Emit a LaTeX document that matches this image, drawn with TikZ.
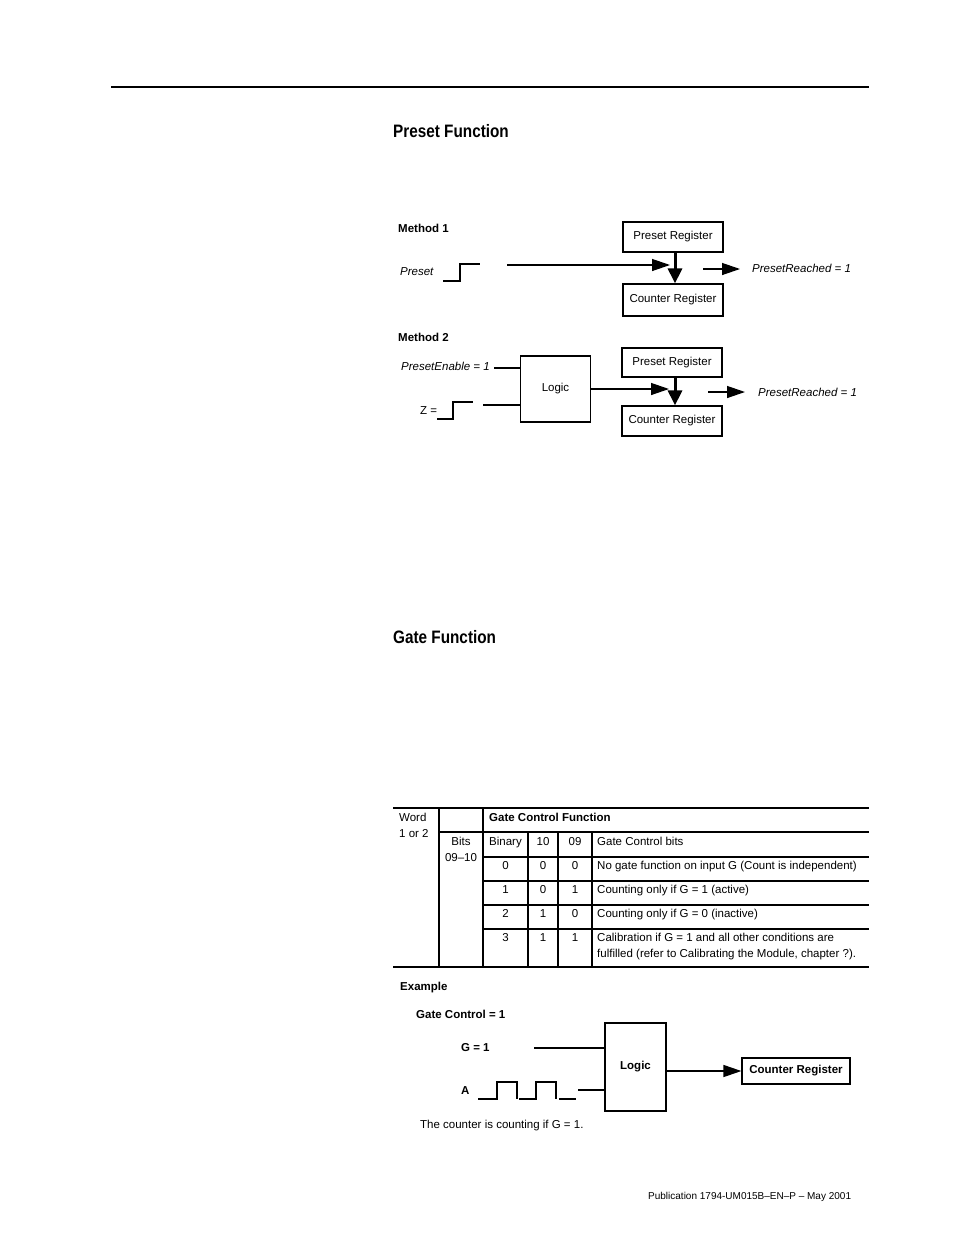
\documentclass[tikz,border=0pt]{standalone}
\usepackage{fontspec}
\setmainfont{Liberation Sans}
\newfontfamily\headfont{Liberation Sans}[FakeStretch=0.85]
\usetikzlibrary{arrows.meta}
\newcommand\dtxt{\fontsize{11.5pt}{14pt}\selectfont}
\newcommand\htxt{\headfont\bfseries\fontsize{18pt}{20pt}\selectfont}
\newcommand\ftxt{\fontsize{10pt}{12pt}\selectfont}
\begin{document}
\begin{tikzpicture}[x=1pt,y=-1pt,
  regbox/.style={draw, line width=1.2pt, inner sep=0pt, font=\dtxt},
  lbl/.style={anchor=base west, inner sep=0pt, font=\dtxt},
  clbl/.style={anchor=base, inner sep=0pt, font=\dtxt},
  sig/.style={line width=1.3pt},
  arr/.style={line width=1.3pt, -{Triangle[length=18pt,width=12pt]}},
  varr/.style={line width=3pt, -{Triangle[length=15pt,width=14pt]}},
  thickrule/.style={line width=2.5pt},
  colrule/.style={line width=2pt},
  rowrule/.style={line width=1.4pt}]
\useasboundingbox (0,0) rectangle (954,1235);
\fill[white] (0,0) rectangle (954,1235);

% top rule
\draw[thickrule] (111,87) -- (869,87);

% ---------- Preset Function ----------
\node[anchor=base west, inner sep=0pt, font=\htxt] (h1) at (393,137) {Preset Function};

% Method 1
\node[lbl, font=\dtxt\bfseries] (m1) at (398,232) {Method 1};
\node[lbl, font=\dtxt\itshape] (pre) at (400,275) {Preset};
\draw[sig] (443,281) -- (460,281) -- (460,264) -- (480,264);
\node[regbox, minimum width=100pt, minimum height=30pt] (pr1) at (673,237) {Preset Register};
\node[regbox, minimum width=100pt, minimum height=32pt] (cr1) at (673,300) {Counter Register};
\coordinate (p1s) at (507,265);
\coordinate (p1e) at (670,265);
\draw[arr] (p1s) -- (p1e);
\draw[varr] ([xshift=2pt]pr1.south) -- ([xshift=2pt]cr1.north);
\coordinate (r1s) at (703,269);
\coordinate (r1e) at (740,269);
\draw[arr] (r1s) -- (r1e);
\node[lbl, font=\dtxt\itshape] (pr1t) at (752,272) {PresetReached = 1};

% Method 2
\node[lbl, font=\dtxt\bfseries] (m2) at (398,341) {Method 2};
\node[lbl, font=\dtxt\itshape] (pe) at (401,370) {PresetEnable = 1};
\node[lbl] (z) at (420,414) {Z =};
\draw[sig] (437,419) -- (453,419) -- (453,402) -- (473,402);
\node[regbox, minimum width=70pt, minimum height=66pt] (lg2) at (555.5,389) {Logic};
\coordinate (pes) at (494,368);
\draw[sig] (pes) -- (pes -| lg2.west);
\coordinate (zs) at (483,405);
\draw[sig] (zs) -- (zs -| lg2.west);
\node[regbox, minimum width=100pt, minimum height=29pt] (pr2) at (672,362.5) {Preset Register};
\node[regbox, minimum width=100pt, minimum height=30pt] (cr2) at (672,421) {Counter Register};
\coordinate (l2e) at (669,389);
\draw[arr] (lg2.east) -- (l2e);
\draw[varr] ([xshift=3pt]pr2.south) -- ([xshift=3pt]cr2.north);
\coordinate (r2s) at (708,392);
\coordinate (r2e) at (745,392);
\draw[arr] (r2s) -- (r2e);
\node[lbl, font=\dtxt\itshape] (pr2t) at (758,396) {PresetReached = 1};

% ---------- Gate Function ----------
\node[anchor=base west, inner sep=0pt, font=\htxt] (h2) at (393,643) {Gate Function};

% table
\draw[thickrule] (393,808) -- (869,808);
\draw[thickrule] (393,967) -- (869,967);
\draw[colrule] (439,808) -- (439,967);
\draw[colrule] (483,808) -- (483,967);
\draw[colrule] (528,832) -- (528,967);
\draw[colrule] (558,832) -- (558,967);
\draw[colrule] (592,832) -- (592,967);
\draw[rowrule] (439,832) -- (869,832);
\foreach \yy in {857,881,905,929} \draw[rowrule] (483,\yy) -- (869,\yy);

\node[lbl] (w1) at (399,821) {Word};
\node[lbl] (w2) at (399,837) {1 or 2};
\node[lbl, font=\dtxt\bfseries] (gcf) at (489,821) {Gate Control Function};
\node[clbl] (b1) at (461,845) {Bits};
\node[clbl] (b2) at (461,861) {09–10};
\node[clbl] (hb) at (505.5,845) {Binary};
\node[clbl] (h10) at (543,845) {10};
\node[clbl] (h09) at (575,845) {09};
\node[lbl] (hg) at (597,845) {Gate Control bits};

\node[clbl] (r0a) at (505.5,869) {0};
\node[clbl] (r0b) at (543,869) {0};
\node[clbl] (r0c) at (575,869) {0};
\node[lbl] (r0d) at (597,869) {No gate function on input G (Count is independent)};
\node[clbl] (r1a) at (505.5,893) {1};
\node[clbl] (r1b) at (543,893) {0};
\node[clbl] (r1c) at (575,893) {1};
\node[lbl] (r1d) at (597,893) {Counting only if G = 1 (active)};
\node[clbl] (r2a) at (505.5,917) {2};
\node[clbl] (r2b) at (543,917) {1};
\node[clbl] (r2c) at (575,917) {0};
\node[lbl] (r2d) at (597,917) {Counting only if G = 0 (inactive)};
\node[clbl] (r3a) at (505.5,941) {3};
\node[clbl] (r3b) at (543,941) {1};
\node[clbl] (r3c) at (575,941) {1};
\node[lbl] (r3d) at (597,941) {Calibration if G = 1 and all other conditions are};
\node[lbl] (r3e) at (597,957) {fulfilled (refer to Calibrating the Module, chapter ?).};

% Example
\node[lbl, font=\dtxt\bfseries] (ex) at (400,990) {Example};
\node[lbl, font=\dtxt\bfseries] (gc) at (416,1018) {Gate Control = 1};
\node[lbl, font=\dtxt\bfseries] (g1) at (461,1051) {G = 1};
\node[lbl, font=\dtxt\bfseries] (a) at (461,1094) {A};
\node[regbox, font=\dtxt\bfseries, minimum width=61pt, minimum height=88pt] (lg3) at (635.5,1067) {Logic};
\node[regbox, font=\dtxt\bfseries, minimum width=108pt, minimum height=26pt] (cr3) at (796,1071) {Counter Register};
\coordinate (gs) at (534,1048);
\draw[sig] (gs) -- (gs -| lg3.west);
\coordinate (as) at (578,1090);
\draw[sig] (as) -- (as -| lg3.west);
\draw[sig] (478,1099) -- (497,1099) -- (497,1082) -- (517,1082) -- (517,1099);
\draw[sig] (519,1099) -- (536,1099) -- (536,1082) -- (556,1082) -- (556,1099);
\draw[sig] (559,1099) -- (576,1099);
\draw[arr] (lg3.east |- cr3.west) -- (cr3.west);
\node[lbl] (cap) at (420,1128) {The counter is counting if G = 1.};

% footer
\node[anchor=base west, inner sep=0pt, font=\ftxt] (ft) at (648,1199) {Publication 1794-UM015B–EN–P – May 2001};
\end{tikzpicture}
\end{document}
